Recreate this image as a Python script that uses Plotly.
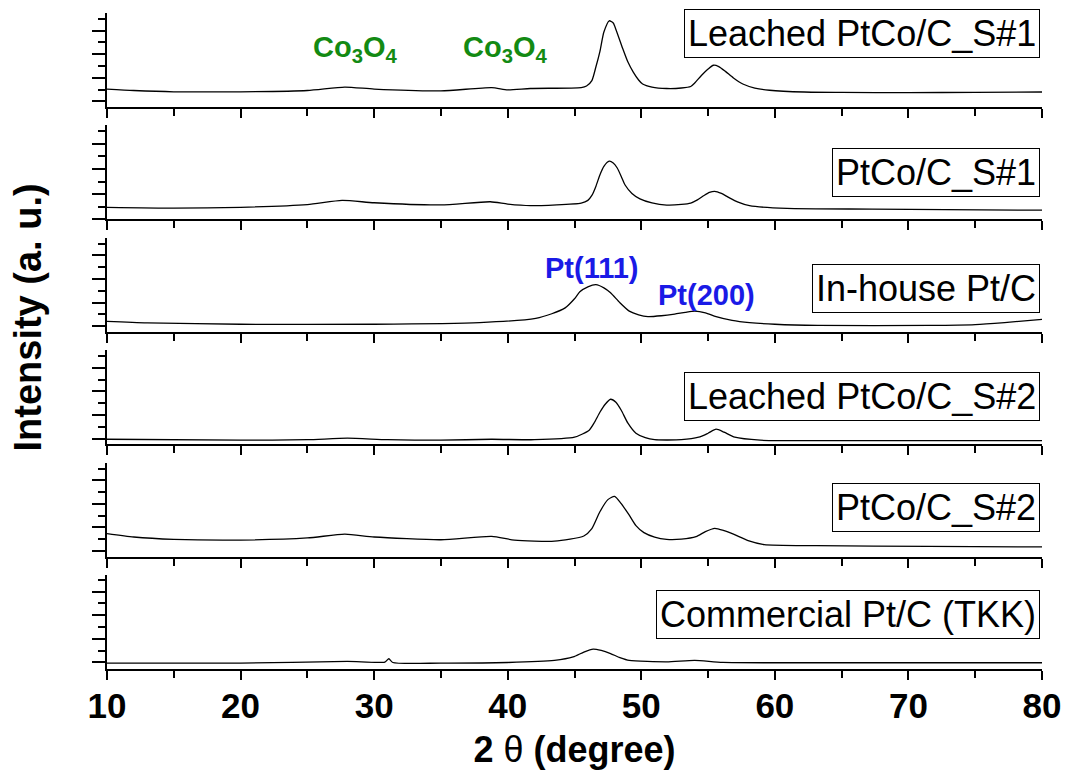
import plotly.graph_objects as go
from plotly.subplots import make_subplots

# ---------------- data (arbitrary units) ----------------
labels = ["Leached PtCo/C_S#1", "PtCo/C_S#1", "In-house Pt/C",
          "Leached PtCo/C_S#2", "PtCo/C_S#2", "Commercial Pt/C (TKK)"]

x1 = [10, 12, 15, 20, 25, 27.8, 30, 35, 38.8, 40, 41.7, 45.5, 45.9, 46.3, 46.6, 46.9, 47.2, 47.6,
      47.9, 48.1, 48.6, 49.0, 49.4, 49.8, 50.1, 50.8, 51.9, 53.0, 53.7, 54.0, 54.5, 55.0, 55.4,
      55.8, 56.3, 56.9, 57.6, 58.5, 59.6, 62.2, 65, 70, 75, 80]
y1 = [1.52, 1.40, 1.29, 1.29, 1.40, 1.69, 1.52, 1.37, 1.64, 1.46, 1.57, 1.65, 1.78, 2.24, 3.39,
      4.70, 6.36, 7.31, 7.12, 6.58, 4.99, 3.81, 2.96, 2.29, 1.95, 1.69, 1.57, 1.61, 1.74, 2.03,
      2.67, 3.22, 3.54, 3.43, 3.02, 2.46, 1.95, 1.61, 1.42, 1.27, 1.24, 1.22, 1.24, 1.27]

x2 = [10, 15, 20, 25, 27.6, 30, 35, 38.7, 40, 41.7, 45.5, 46.0, 46.3, 46.6, 46.9, 47.2, 47.6,
      47.9, 48.2, 48.5, 48.8, 49.3, 49.9, 50.8, 51.9, 53.0, 53.7, 54.2, 54.7, 55.1, 55.5, 56.0,
      56.5, 57.2, 58.1, 60.9, 67.3, 80]
y2 = [0.96, 0.90, 0.96, 1.17, 1.51, 1.32, 1.15, 1.40, 1.21, 1.09, 1.30, 1.51, 1.90, 2.62, 3.53,
      4.21, 4.62, 4.48, 4.08, 3.41, 2.71, 2.06, 1.63, 1.31, 1.14, 1.19, 1.30, 1.55, 1.90, 2.14,
      2.23, 2.06, 1.77, 1.39, 1.09, 0.87, 0.82, 0.73]

x3 = [10, 13, 20, 30, 37.9, 42.1, 43.3, 44.3, 45.0, 45.4, 46.0, 46.6, 47.2, 47.7, 48.4, 49.1,
      49.8, 50.5, 51.5, 52.5, 53.3, 54.0, 54.8, 55.6, 56.8, 58.1, 60, 63.2, 71.6, 75, 77.2, 80]
y3 = [0.89, 0.76, 0.64, 0.64, 0.78, 1.14, 1.53, 2.03, 2.80, 3.39, 3.81, 4.00, 3.73, 3.31, 2.46,
      1.75, 1.44, 1.29, 1.36, 1.50, 1.65, 1.75, 1.61, 1.29, 0.97, 0.78, 0.64, 0.54, 0.54, 0.61,
      0.78, 1.05]

x4 = [10, 20, 25, 28, 31, 35, 38.8, 42, 45, 46.1, 46.5, 46.9, 47.3, 47.7, 48.1, 48.5, 49.0, 49.6,
      50.3, 51.0, 53, 54.3, 55.0, 55.6, 56.2, 57.0, 58.9, 65, 80]
y4 = [0.42, 0.34, 0.38, 0.51, 0.38, 0.34, 0.42, 0.38, 0.59, 1.19, 1.86, 2.71, 3.39, 3.81, 3.56,
      2.88, 1.78, 0.93, 0.55, 0.38, 0.38, 0.59, 0.93, 1.27, 1.02, 0.59, 0.34, 0.30, 0.30]

x5 = [10, 12, 15, 20, 25, 27.8, 30, 35, 38.8, 40.5, 43.5, 45.7, 46.3, 46.9, 47.5, 48.0, 48.5,
      49.1, 49.6, 50.2, 51.0, 51.9, 53.0, 54.1, 54.8, 55.5, 56.2, 56.9, 58.0, 59.2, 63.1, 71.5, 80]
y5 = [1.95, 1.66, 1.46, 1.40, 1.58, 1.90, 1.66, 1.43, 1.72, 1.40, 1.31, 1.75, 2.37, 3.80, 4.83,
      5.11, 4.49, 3.51, 2.63, 2.03, 1.65, 1.46, 1.48, 1.69, 2.12, 2.40, 2.20, 1.90, 1.36, 1.02,
      0.93, 0.87, 0.82]

x6 = [10, 20, 28, 30.8, 31.1, 31.4, 35, 40, 43.5, 44.9, 45.7, 46.4, 47.0, 47.7, 48.4, 49.1,
      51.9, 54.0, 56.1, 63.1, 80]
y6 = [0.50, 0.50, 0.64, 0.59, 0.87, 0.55, 0.50, 0.55, 0.73, 1.02, 1.44, 1.69, 1.57, 1.31, 0.97,
      0.73, 0.61, 0.73, 0.56, 0.53, 0.53]

xs = [x1, x2, x3, x4, x5, x6]
ys = [y1, y2, y3, y4, y5, y6]

# per-panel y ranges and tick offsets (a.u.)
y_ranges = [[0, 7.97], [0, 7.46], [0, 7.97], [0, 7.97], [0, 7.97], [0, 7.97]]
y_tick0 = [0.47, 0.0, 0.47, 0.47, 0.47, 0.56]

x_ticks = [10, 20, 30, 40, 50, 60, 70, 80]

# peak annotations
co_label = "Co<sub>3</sub>O<sub>4</sub>"
co_pos = [(28.6, 4.93), (39.8, 4.93)]
pt_labels = [("Pt(111)", 46.3, 5.43), ("Pt(200)", 54.9, 3.14)]

# ---------------- figure ----------------
W, H = 1067, 775
ML, MR, MT, MB = 107, 25, 13, 106
PH = H - MT - MB
PW = W - ML - MR

fig = make_subplots(rows=6, cols=1, shared_xaxes=True, vertical_spacing=18.4 / PH)

for i in range(6):
    fig.add_trace(go.Scatter(x=xs[i], y=ys[i], mode="lines",
                             line=dict(color="black", width=1.3, shape="spline", smoothing=0.6),
                             showlegend=False, hoverinfo="skip"),
                  row=i + 1, col=1)
    fig.update_yaxes(range=y_ranges[i], tick0=y_tick0[i], dtick=2,
                     showline=True, linecolor="black", linewidth=2,
                     ticks="outside", ticklen=13, tickwidth=2, tickcolor="black",
                     minor=dict(ticks="outside", ticklen=7, tickwidth=2, tickcolor="black",
                                dtick=1, tick0=y_tick0[i]),
                     showticklabels=False, showgrid=False, zeroline=False,
                     row=i + 1, col=1)
    fig.update_xaxes(range=[10, 80], tickvals=x_ticks,
                     showline=True, linecolor="black", linewidth=2,
                     ticks="outside", ticklen=9, tickwidth=2, tickcolor="black",
                     minor=dict(ticks="outside", ticklen=7, tickwidth=2, tickcolor="black",
                                dtick=5, tick0=10),
                     showgrid=False, zeroline=False,
                     row=i + 1, col=1)

fig.update_xaxes(showticklabels=True,
                 tickfont=dict(family="Liberation Sans, Arial", size=35, color="black", weight="bold"),
                 ticklabelstandoff=-4,
                 title=dict(text="2 <span style='font-weight:normal'>θ</span> (degree)",
                            font=dict(family="Liberation Sans, Arial", size=36, color="black",
                                      weight="bold"),
                            standoff=13),
                 row=6, col=1)

# sample name boxes
box_centers = [34, 172, 288, 396, 508, 614]
for lab, cy in zip(labels, box_centers):
    fig.add_annotation(text=lab, xref="paper", yref="paper",
                       x=(1040 - ML) / PW, y=1 - (cy - MT) / PH,
                       xanchor="right", yanchor="middle", showarrow=False,
                       font=dict(family="Liberation Sans, Arial", size=36, color="black"),
                       bordercolor="black", borderwidth=1, borderpad=3, bgcolor="white")

# peak labels
for xv, yv in co_pos:
    fig.add_annotation(text=co_label, x=xv, y=yv, xref="x", yref="y",
                       showarrow=False, xanchor="center", yanchor="middle",
                       font=dict(family="Liberation Sans, Arial", size=29, color="#138a13",
                                 weight="bold"))
for txt, xv, yv in pt_labels:
    fig.add_annotation(text=txt, x=xv, y=yv, xref="x3", yref="y3",
                       showarrow=False, xanchor="center", yanchor="middle",
                       font=dict(family="Liberation Sans, Arial", size=29, color="#1a1ae6",
                                 weight="bold"))

# y axis title
fig.add_annotation(text="Intensity (a. u.)", xref="paper", yref="paper",
                   x=(28 - ML) / PW, y=1 - (317.5 - MT) / PH,
                   xanchor="center", yanchor="middle", showarrow=False, textangle=-90,
                   font=dict(family="Liberation Sans, Arial", size=38, color="black", weight="bold"))

fig.update_layout(width=W, height=H, margin=dict(l=ML, r=MR, t=MT, b=MB, autoexpand=False),
                  plot_bgcolor="white", paper_bgcolor="white")

fig.write_html("out.html", config={"displayModeBar": False},
               post_script="document.body.style.margin='0';document.body.style.overflow='hidden';")
